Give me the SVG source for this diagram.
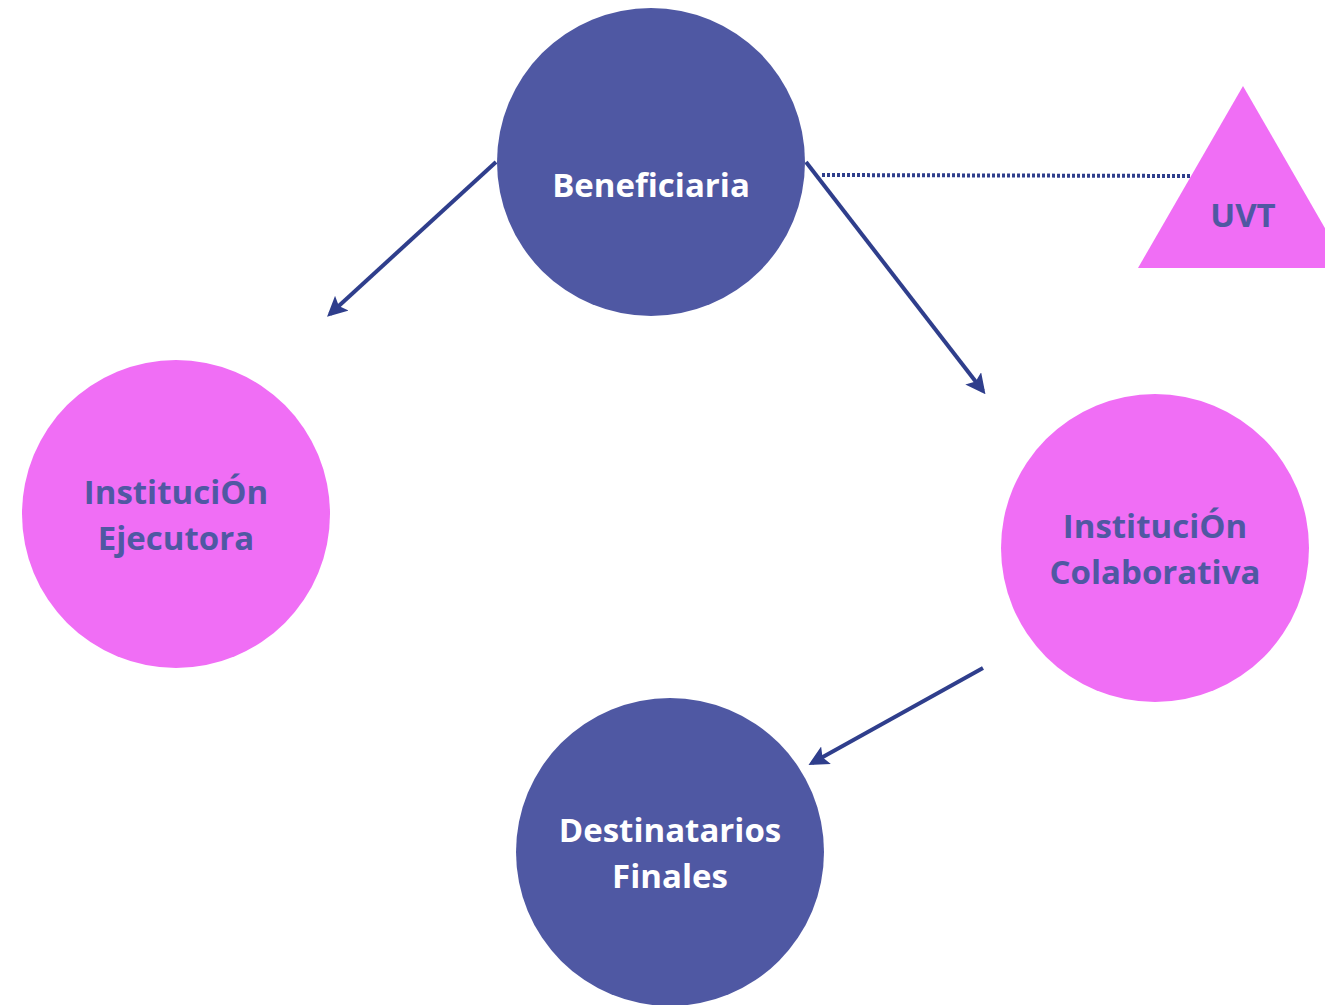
<svg xmlns="http://www.w3.org/2000/svg" width="1325" height="1005" viewBox="0 0 1325 1005">
<defs>
<style>
.blue{fill:#4F58A3}
.pink{fill:#F06EF5}
.t{font-family:"Open Sans","Liberation Sans",sans-serif;font-weight:bold;font-size:33px;text-anchor:middle}
.tw{fill:#FFFFFF}
.tb{fill:#4F58A3}
.c{stroke:#2F3E8C;stroke-width:4;fill:none}
</style>
<marker id="ah" viewBox="0 0 10 10" refX="8" refY="5" markerWidth="5" markerHeight="5" orient="auto" markerUnits="strokeWidth">
<path d="M0,0 L10,5 L0,10 L2,5 z" fill="#2F3E8C"/>
</marker>
</defs>
<rect width="1325" height="1005" fill="#FFFFFF"/>
<g id="connectors">
<line class="c" x1="496" y1="162" x2="330" y2="314" marker-end="url(#ah)"/>
<line class="c" x1="806" y1="162" x2="983" y2="391" marker-end="url(#ah)"/>
<line class="c" x1="983" y1="668" x2="812" y2="763" marker-end="url(#ah)"/>
<line x1="822" y1="175" x2="1192" y2="176" stroke="#2F3E8C" stroke-width="4" stroke-dasharray="3 2"/>
</g>
<g id="beneficiaria">
<circle class="blue" cx="651" cy="162" r="154"/>
<text class="t tw" x="651" y="197">Beneficiaria</text>
</g>
<g id="uvt">
<polygon class="pink" points="1243,86 1348,268 1138,268"/>
<text class="t tb" x="1243" y="227">UVT</text>
</g>
<g id="ejecutora">
<circle class="pink" cx="176" cy="514" r="154"/>
<text class="t tb" x="176" y="504">InstituciÓn</text>
<text class="t tb" x="176" y="550">Ejecutora</text>
</g>
<g id="colaborativa">
<circle class="pink" cx="1155" cy="548" r="154"/>
<text class="t tb" x="1155" y="538">InstituciÓn</text>
<text class="t tb" x="1155" y="584">Colaborativa</text>
</g>
<g id="destinatarios">
<circle class="blue" cx="670" cy="852" r="154"/>
<text class="t tw" x="670" y="842">Destinatarios</text>
<text class="t tw" x="670" y="888">Finales</text>
</g>
</svg>
